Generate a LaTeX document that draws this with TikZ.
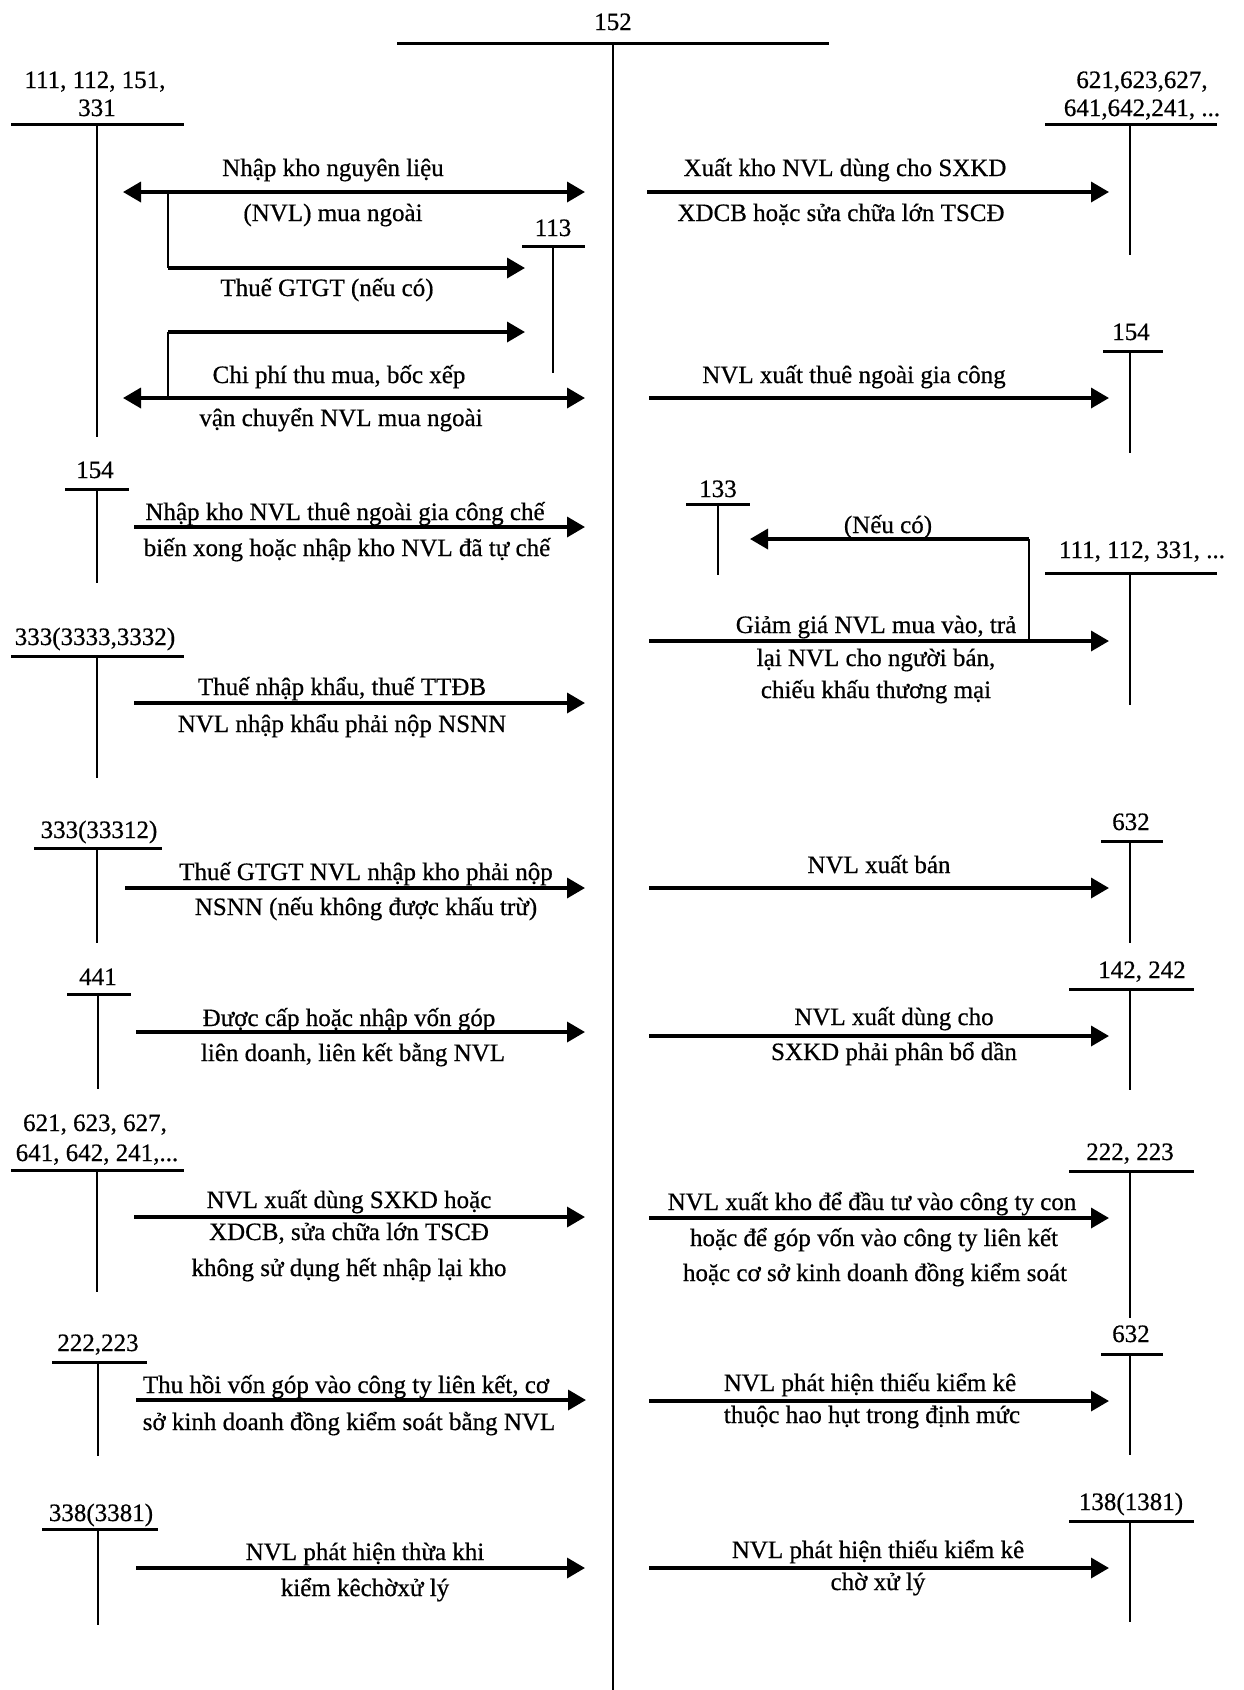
\documentclass[tikz,border=0pt]{standalone}
\usepackage{fontspec}
\setmainfont{Liberation Serif}[FakeBold=0.6]
\usetikzlibrary{arrows.meta}

\begin{document}
\begin{tikzpicture}[
  x=1pt, y=-1pt,
  lbl/.style={anchor=base, inner sep=0pt, font=\fontsize{25}{30}\selectfont},
  bar/.style={line width=3pt},
  trunk/.style={line width=2pt},
  branch/.style={line width=2.5pt},
  flow/.style={line width=3.5pt, -{Triangle[length=18pt,width=20pt]}},
  flowb/.style={line width=3.5pt, {Triangle[length=18pt,width=20pt]}-{Triangle[length=18pt,width=20pt]}},
]
\useasboundingbox (0,0) rectangle (1243,1690);

% account 152 in the middle
\node[lbl] (n152) at (613,30) {152};
\draw [bar] (397,43) -- (829,43);
\draw [trunk] (613,43) -- (613,1690);

% left accounts
\node[lbl] (a1a) at (95,88) {111, 112, 151,};
\node[lbl] (a1b) at (97,116) {331};
\draw [bar] (11,124) -- (184,124);
\draw [trunk] (97,124) -- (97,437);

\node[lbl] (a2) at (95,478) {154};
\draw [bar] (65,489) -- (129,489);
\draw [trunk] (97,489) -- (97,583);

\node[lbl] (a3) at (95,645) {333(3333,3332)};
\draw [bar] (11,656) -- (184,656);
\draw [trunk] (97,656) -- (97,778);

\node[lbl] (a4) at (99,838) {333(33312)};
\draw [bar] (34,848) -- (162,848);
\draw [trunk] (97,848) -- (97,943);

\node[lbl] (a5) at (98,985) {441};
\draw [bar] (67,994) -- (131,994);
\draw [trunk] (98,994) -- (98,1089);

\node[lbl] (a6a) at (95,1131) {621, 623, 627,};
\node[lbl] (a6b) at (97,1161) {641, 642, 241,...};
\draw [bar] (11,1170) -- (184,1170);
\draw [trunk] (97,1170) -- (97,1292);

\node[lbl] (a7) at (98,1351) {222,223};
\draw [bar] (52,1362) -- (147,1362);
\draw [trunk] (98,1362) -- (98,1456);

\node[lbl] (a8) at (101,1521) {338(3381)};
\draw [bar] (42,1529) -- (158,1529);
\draw [trunk] (98,1529) -- (98,1625);

% account 113
\node[lbl] (a113) at (553,236) {113};
\draw [bar] (522,246) -- (585,246);
\draw [trunk] (553,246) -- (553,373);

% right accounts
\node[lbl] (b1a) at (1142,88) {621,623,627,};
\node[lbl] (b1b) at (1142,116) {641,642,241, ...};
\draw [bar] (1045,124) -- (1217,124);
\draw [trunk] (1130,124) -- (1130,255);

\node[lbl] (b2) at (1131,340) {154};
\draw [bar] (1103,351) -- (1163,351);
\draw [trunk] (1130,351) -- (1130,453);

\node[lbl] (b3) at (718,497) {133};
\draw [bar] (686,504) -- (750,504);
\draw [trunk] (718,504) -- (718,575);

\node[lbl] (b4) at (1142,558) {111, 112, 331, ...};
\draw [bar] (1045,573) -- (1217,573);
\draw [trunk] (1130,573) -- (1130,705);

\node[lbl] (b5) at (1131,830) {632};
\draw [bar] (1101,841) -- (1163,841);
\draw [trunk] (1130,841) -- (1130,943);

\node[lbl] (b6) at (1142,978) {142, 242};
\draw [bar] (1069,989) -- (1194,989);
\draw [trunk] (1130,989) -- (1130,1090);

\node[lbl] (b7) at (1130,1160) {222, 223};
\draw [bar] (1069,1171) -- (1194,1171);
\draw [trunk] (1130,1171) -- (1130,1318);

\node[lbl] (b8) at (1131,1342) {632};
\draw [bar] (1101,1354) -- (1163,1354);
\draw [trunk] (1130,1354) -- (1130,1455);

\node[lbl] (b9) at (1131,1510) {138(1381)};
\draw [bar] (1069,1521) -- (1194,1521);
\draw [trunk] (1130,1521) -- (1130,1622);

% left flows into 152
\coordinate (p1s) at (123,192); \coordinate (p1e) at (585,192);
\coordinate (p1k) at (168,192); \coordinate (p1c) at (168,268); \coordinate (p1t) at (525,268);
\draw [flowb] (p1s) -- (p1e);
\draw [branch] (p1k) -- (p1c);
\draw [flow] (p1c) -- (p1t);
\node[lbl] (t1a) at (333,176) {Nhập kho nguyên liệu};
\node[lbl] (t1b) at (333,221) {(NVL) mua ngoài};
\node[lbl] (t1c) at (327,296) {Thuế GTGT (nếu có)};

\coordinate (p2s) at (123,398); \coordinate (p2e) at (585,398);
\coordinate (p2k) at (168,398); \coordinate (p2c) at (168,332); \coordinate (p2t) at (525,332);
\draw [flowb] (p2s) -- (p2e);
\draw [branch] (p2k) -- (p2c);
\draw [flow] (p2c) -- (p2t);
\node[lbl] (t2a) at (339,383) {Chi phí thu mua, bốc xếp};
\node[lbl] (t2b) at (341,426) {vận chuyển NVL mua ngoài};

\coordinate (p3s) at (134,527); \coordinate (p3e) at (585,527);
\draw [flow] (p3s) -- (p3e);
\node[lbl] (t3a) at (345,520) {Nhập kho NVL thuê ngoài gia công chế};
\node[lbl] (t3b) at (347,556) {biến xong hoặc nhập kho NVL đã tự chế};

\coordinate (p4s) at (134,703); \coordinate (p4e) at (585,703);
\draw [flow] (p4s) -- (p4e);
\node[lbl] (t4a) at (342,695) {Thuế nhập khẩu, thuế TTĐB};
\node[lbl] (t4b) at (342,732) {NVL nhập khẩu phải nộp NSNN};

\coordinate (p5s) at (125,888); \coordinate (p5e) at (585,888);
\draw [flow] (p5s) -- (p5e);
\node[lbl] (t5a) at (366,880) {Thuế GTGT NVL nhập kho phải nộp};
\node[lbl] (t5b) at (366,915) {NSNN (nếu không được khấu trừ)};

\coordinate (p6s) at (136,1032); \coordinate (p6e) at (585,1032);
\draw [flow] (p6s) -- (p6e);
\node[lbl] (t6a) at (349,1026) {Được cấp hoặc nhập vốn góp};
\node[lbl] (t6b) at (353,1061) {liên doanh, liên kết bằng NVL};

\coordinate (p7s) at (134,1217); \coordinate (p7e) at (585,1217);
\draw [flow] (p7s) -- (p7e);
\node[lbl] (t7a) at (349,1208) {NVL xuất dùng SXKD hoặc};
\node[lbl] (t7b) at (349,1240) {XDCB, sửa chữa lớn TSCĐ};
\node[lbl] (t7c) at (349,1276) {không sử dụng hết nhập lại kho};

\coordinate (p8s) at (136,1400); \coordinate (p8e) at (586,1400);
\draw [flow] (p8s) -- (p8e);
\node[lbl] (t8a) at (346,1393) {Thu hồi vốn góp vào công ty liên kết, cơ};
\node[lbl] (t8b) at (349,1430) {sở kinh doanh đồng kiểm soát bằng NVL};

\coordinate (p9s) at (136,1568); \coordinate (p9e) at (585,1568);
\draw [flow] (p9s) -- (p9e);
\node[lbl] (t9a) at (365,1560) {NVL phát hiện thừa khi};
\node[lbl] (t9b) at (365,1596) {kiểm kêchờxử lý};

% right flows out of 152
\coordinate (q1s) at (647,192); \coordinate (q1e) at (1109,192);
\draw [flow] (q1s) -- (q1e);
\node[lbl] (u1a) at (845,176) {Xuất kho NVL dùng cho SXKD};
\node[lbl] (u1b) at (841,221) {XDCB hoặc sửa chữa lớn TSCĐ};

\coordinate (q2s) at (649,398); \coordinate (q2e) at (1109,398);
\draw [flow] (q2s) -- (q2e);
\node[lbl] (u2a) at (854,383) {NVL xuất thuê ngoài gia công};

\coordinate (q3s) at (649,641); \coordinate (q3e) at (1109,641);
\coordinate (q3k) at (1029,641); \coordinate (q3c) at (1029,539); \coordinate (q3t) at (750,539);
\draw [flow] (q3s) -- (q3e);
\draw [branch] (q3k) -- (q3c);
\draw [flow] (q3c) -- (q3t);
\node[lbl] (u3n) at (888,533) {(Nếu có)};
\node[lbl] (u3a) at (876,633) {Giảm giá NVL mua vào, trả};
\node[lbl] (u3b) at (876,666) {lại NVL cho người bán,};
\node[lbl] (u3c) at (876,698) {chiếu khấu thương mại};

\coordinate (q4s) at (649,888); \coordinate (q4e) at (1109,888);
\draw [flow] (q4s) -- (q4e);
\node[lbl] (u4a) at (879,873) {NVL xuất bán};

\coordinate (q5s) at (649,1036); \coordinate (q5e) at (1109,1036);
\draw [flow] (q5s) -- (q5e);
\node[lbl] (u5a) at (894,1025) {NVL xuất dùng cho};
\node[lbl] (u5b) at (894,1060) {SXKD phải phân bổ dần};

\coordinate (q6s) at (649,1218); \coordinate (q6e) at (1109,1218);
\draw [flow] (q6s) -- (q6e);
\node[lbl] (u6a) at (872,1210) {NVL xuất kho để đầu tư vào công ty con};
\node[lbl] (u6b) at (874,1246) {hoặc để góp vốn vào công ty liên kết};
\node[lbl] (u6c) at (875,1281) {hoặc cơ sở kinh doanh đồng kiểm soát};

\coordinate (q7s) at (649,1401); \coordinate (q7e) at (1109,1401);
\draw [flow] (q7s) -- (q7e);
\node[lbl] (u7a) at (870,1391) {NVL phát hiện thiếu kiểm kê};
\node[lbl] (u7b) at (872,1423) {thuộc hao hụt trong định mức};

\coordinate (q8s) at (649,1568); \coordinate (q8e) at (1109,1568);
\draw [flow] (q8s) -- (q8e);
\node[lbl] (u8a) at (878,1558) {NVL phát hiện thiếu kiểm kê};
\node[lbl] (u8b) at (878,1590) {chờ xử lý};

\end{tikzpicture}
\end{document}
